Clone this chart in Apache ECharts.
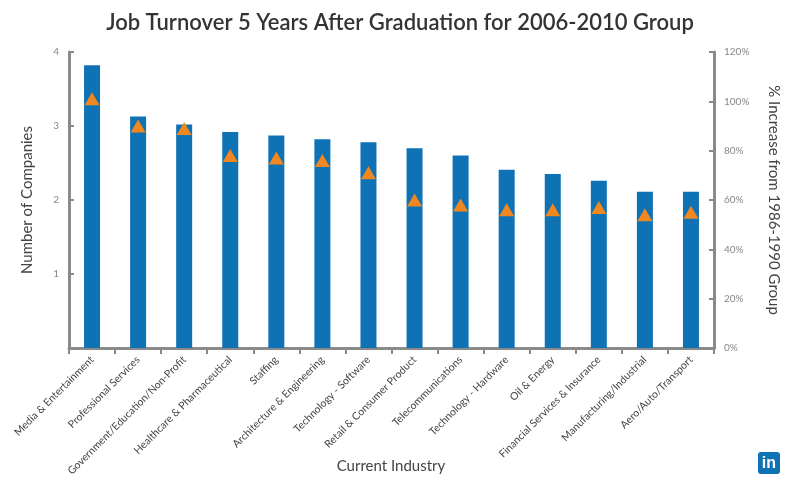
<!DOCTYPE html><html><head><meta charset="utf-8"><script src="https://cdn.jsdelivr.net/npm/echarts@6/dist/echarts.min.js"></script></head><body style="margin:0"><div id="c" style="width:800px;height:488px"></div><script>
const categories=["Media & Entertainment","Professional Services","Government/Education/Non-Profit","Healthcare & Pharmaceutical","Staffing","Architecture & Engineering","Technology - Software","Retail & Consumer Product","Telecommunications","Technology - Hardware","Oil & Energy","Financial Services & Insurance","Manufacturing/Industrial","Aero/Auto/Transport"];
const companies=[3.82,3.13,3.02,2.92,2.87,2.82,2.78,2.7,2.6,2.41,2.35,2.26,2.11,2.11];
const pctIncrease=[101,90,89,78,77,76,71,60,58,56,56,57,54,55];
const gray='#8a8a8a',txt='#444';
const ch=echarts.init(document.getElementById('c'));
ch.setOption({
 animation:false,
 title:{text:'Job Turnover 5 Years After Graduation for 2006-2010 Group',left:'center',top:7,textStyle:{fontFamily:'Lato',fontSize:22,fontWeight:600,color:'#333'}},
 grid:{left:69,right:86,top:52,bottom:140,outerBoundsMode:'none',containLabel:false},
 xAxis:{type:'category',data:categories,
  axisLine:{lineStyle:{color:gray,width:3}},axisTick:{show:true,length:6,lineStyle:{color:gray,width:2}},
  axisLabel:{rotate:45,fontFamily:'Lato',fontSize:10.5,color:txt,margin:10}},
 yAxis:[{type:'value',min:0,max:4,interval:1,name:'Number of Companies',nameLocation:'middle',nameGap:34,nameTextStyle:{fontFamily:'Lato',fontSize:15,color:txt},
  axisLine:{show:true,lineStyle:{color:gray,width:3}},axisTick:{show:true,length:5,inside:true,lineStyle:{color:gray,width:2}},splitLine:{show:false},
  axisLabel:{fontFamily:'Lato',fontSize:10,color:'#888',margin:10,formatter:v=>v===0?'':v}},
  {type:'value',min:0,max:120,interval:20,name:'% Increase from 1986-1990 Group',nameLocation:'middle',nameGap:52,nameRotate:-90,nameTextStyle:{fontFamily:'Lato',fontSize:15,color:txt},
  axisLine:{show:true,lineStyle:{color:gray,width:3}},axisTick:{show:true,length:5,inside:true,lineStyle:{color:gray,width:2}},splitLine:{show:false},
  axisLabel:{fontFamily:'Lato',fontSize:10,color:'#888',margin:10,formatter:'{value}%'}}],
 series:[{type:'bar',data:companies,barWidth:16,itemStyle:{color:'#0e72b5'}},
  {type:'scatter',yAxisIndex:1,data:pctIncrease,symbol:'triangle',symbolSize:[15,13],itemStyle:{color:'#f0871f',opacity:1}}],
 graphic:[{type:'text',x:391,y:466,style:{text:'Current Industry',fill:txt,font:'15px Lato',align:'center',verticalAlign:'middle'}},
  {type:'rect',right:20,bottom:14,shape:{width:22,height:22,r:3},style:{fill:'#0e72b5'}},
  {type:'text',right:24,bottom:16,style:{text:'in',fill:'#fff',font:'bold 16px Arial'}}]
});
</script></body></html>
